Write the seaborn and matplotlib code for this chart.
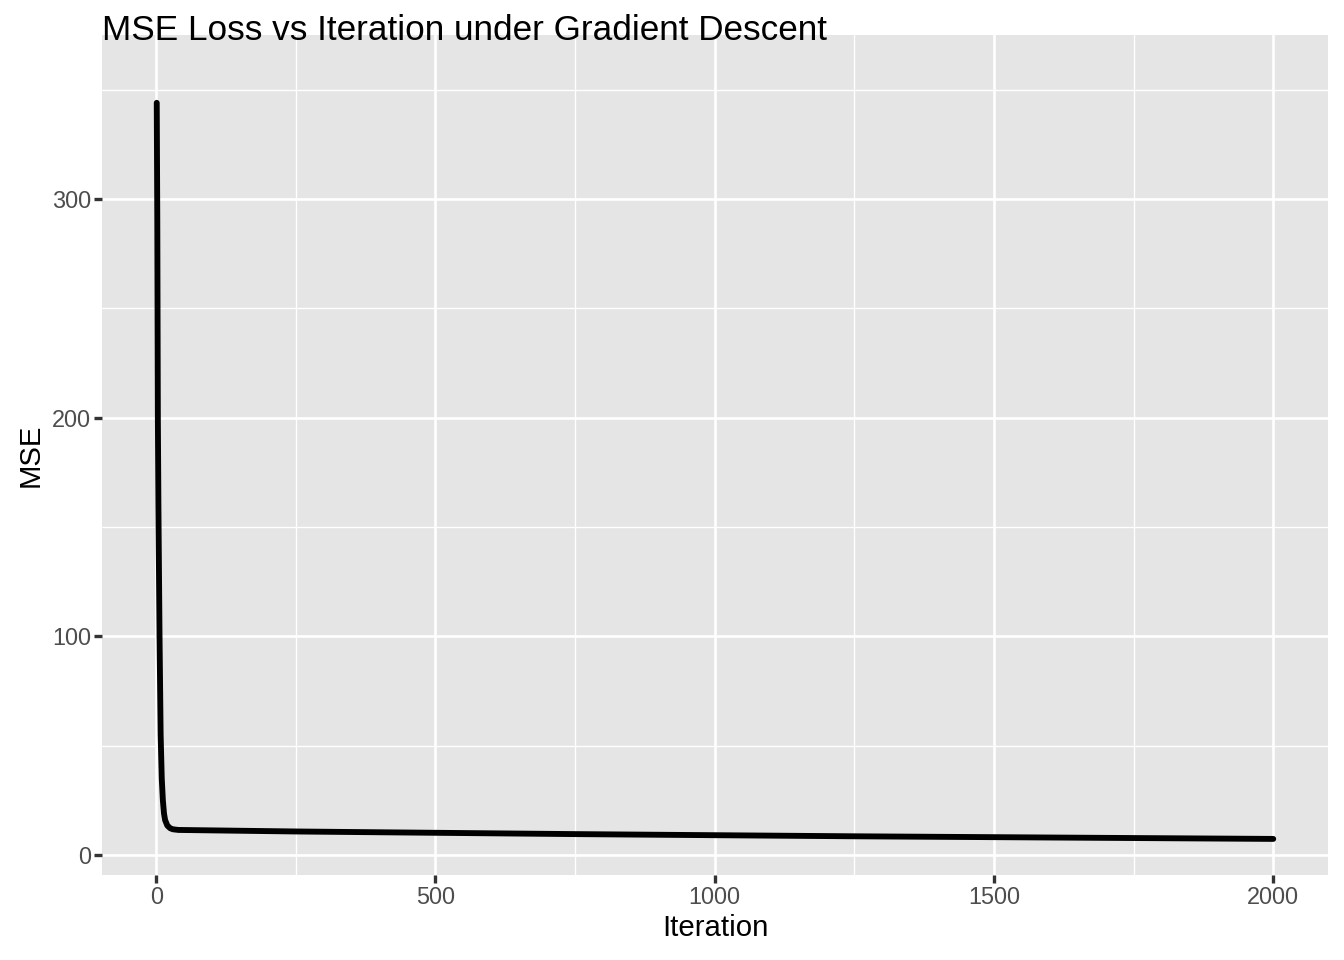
import matplotlib
matplotlib.use("Agg")
import matplotlib.pyplot as plt
import seaborn as sns
import pandas as pd
from matplotlib.ticker import MultipleLocator

iteration = [1, 2, 3, 4, 6, 8, 10, 12, 14, 16, 20, 25, 30, 40, 100, 250, 500, 750, 1000, 1250, 1500, 1750, 2000]
mse = [344, 290, 200, 160, 100, 55, 35, 25, 19, 16, 13.5, 12.3, 11.8, 11.5, 11.3, 10.8, 10.2, 9.6, 9.1, 8.6, 8.2, 7.8, 7.4]

df = pd.DataFrame({"Iteration": iteration, "MSE": mse})

sns.set_theme(style="darkgrid", rc={"axes.facecolor": "#E5E5E5", "grid.color": "white"})
plt.rcParams['font.family'] = ['Liberation Sans', 'DejaVu Sans']
fig = plt.figure(figsize=(7, 5), dpi=192)
ax = fig.add_axes([102/1344, 85/960, (1328-102)/1344, (875-35)/960])
sns.lineplot(data=df, x="Iteration", y="MSE", color="black", linewidth=2.2, ax=ax)
ax.set_xlim(-97, 2098)
ax.set_ylim(-9.1, 375)
ax.set_xticks([0, 500, 1000, 1500, 2000])
ax.set_yticks([0, 100, 200, 300])
ax.xaxis.set_minor_locator(MultipleLocator(250))
ax.yaxis.set_minor_locator(MultipleLocator(50))
ax.grid(which="major", color="white", linewidth=1.0)
ax.grid(which="minor", color="white", linewidth=0.5)
for s in ax.spines.values():
    s.set_visible(False)
ax.tick_params(which="major", length=3, color="#333333", labelsize=8.8, labelcolor="#4D4D4D", pad=1, left=True, bottom=True)
ax.tick_params(which="minor", length=0)
ax.set_xlabel("Iteration", fontsize=11, color="black", labelpad=2)
ax.set_ylabel("MSE", fontsize=11, color="black", labelpad=3)
fig.text(102/1344, 1 - 40/960, "MSE Loss vs Iteration under Gradient Descent", fontsize=13.2, color="black", ha="left", va="baseline")
fig.savefig("out.png", dpi=192)
